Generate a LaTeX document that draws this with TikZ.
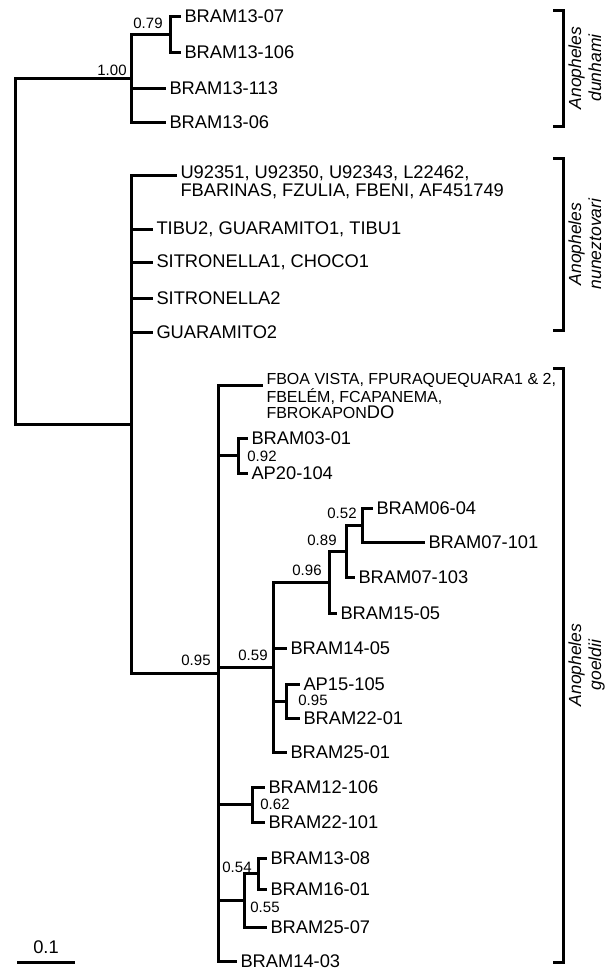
\documentclass[tikz,border=0pt]{standalone}
\usepackage{fontspec}
\setmainfont{Liberation Sans}
\begin{document}
\begin{tikzpicture}[x=1pt,y=-1pt,line width=3pt,
  leaf/.style={anchor=west,inner xsep=2pt,inner ysep=0.5pt,font=\fontsize{18.3}{18}\selectfont},
  boot/.style={inner sep=0pt,font=\fontsize{15}{15}\selectfont},
  clade/.style={rotate=90,anchor=north,align=center,inner sep=1pt,
    font=\fontsize{17.5}{20}\selectfont\itshape}]
\useasboundingbox (0,0) rectangle (609,970);
\coordinate (root) at (15,251.6);
\coordinate (dun) at (131,78);
\coordinate (n79) at (170,34);
\coordinate (nun) at (131,424.2);
\coordinate (goe) at (218,673.5);
\coordinate (n92) at (238,455.5);
\coordinate (n59) at (273,667.5);
\coordinate (n96) at (329,582);
\coordinate (n89) at (346,551);
\coordinate (n52) at (362,525);
\coordinate (n95) at (286,701);
\coordinate (n62) at (252,804.5);
\coordinate (n55) at (244,900.5);
\coordinate (n54) at (258,873.5);
\node[leaf] (b1307) at (181,16) {BRAM13-07};
\node[leaf] (b13106) at (181,52) {BRAM13-106};
\node[leaf] (b13113) at (166,88) {BRAM13-113};
\node[leaf] (b1306) at (166,122) {BRAM13-06};
\coordinate (u92) at (177,175);
\node[leaf,anchor=north west,align=left] (u92txt) at (177,164)
  {U92351, U92350, U92343, L22462,\\FBARINAS, FZULIA, FBENI, AF451749};
\node[leaf] (tibu) at (153,229) {TIBU2, GUARAMITO1, TIBU1};
\node[leaf] (sit1) at (153,262) {SITRONELLA1, CHOCO1};
\node[leaf] (sit2) at (153,298) {SITRONELLA2};
\node[leaf] (gua2) at (153,332) {GUARAMITO2};
\coordinate (fboa) at (263,385);
\node[leaf,anchor=north west,align=left,font=\fontsize{16}{15.5}\selectfont] (fboatxt) at (263,371.8)
  {FBOA VISTA, FPURAQUEQUARA1 \& 2,\\FBEL\'EM, FCAPANEMA,\\FBROKAPON{\fontsize{18.3}{15.5}\selectfont DO}};
\node[leaf] (b0301) at (248,438) {BRAM03-01};
\node[leaf] (ap20) at (248,473) {AP20-104};
\node[leaf] (b0604) at (373,508) {BRAM06-04};
\node[leaf] (b07101) at (425,542) {BRAM07-101};
\node[leaf] (b07103) at (355,577) {BRAM07-103};
\node[leaf] (b1505) at (337,613) {BRAM15-05};
\node[leaf] (b1405) at (287,648) {BRAM14-05};
\node[leaf] (ap15) at (300,684) {AP15-105};
\node[leaf] (b2201) at (300,718) {BRAM22-01};
\node[leaf] (b2501) at (287,752) {BRAM25-01};
\node[leaf] (b12106) at (265,787) {BRAM12-106};
\node[leaf] (b22101) at (265,822) {BRAM22-101};
\node[leaf] (b1308) at (267,858) {BRAM13-08};
\node[leaf] (b1601) at (267,889) {BRAM16-01};
\node[leaf] (b2507) at (267,927) {BRAM25-07};
\node[leaf] (b1403) at (237,961.5) {BRAM14-03};
\draw (root) |- (dun) (root) |- (nun);
\draw (dun) |- (n79) (dun) |- (b13113) (dun) |- (b1306);
\draw (n79) |- (b1307) (n79) |- (b13106);
\draw (nun) |- (u92) (nun) |- (tibu) (nun) |- (sit1) (nun) |- (sit2) (nun) |- (gua2) (nun) |- (goe);
\draw (goe) |- (fboa) (goe) |- (n92) (goe) |- (n59) (goe) |- (n62) (goe) |- (n55) (goe) |- (b1403);
\draw (n92) |- (b0301) (n92) |- (ap20);
\draw (n59) |- (n96) (n59) |- (b1405) (n59) |- (n95) (n59) |- (b2501);
\draw (n96) |- (n89) (n96) |- (b1505);
\draw (n89) |- (n52) (n89) |- (b07103);
\draw (n52) |- (b0604) (n52) |- (b07101);
\draw (n95) |- (ap15) (n95) |- (b2201);
\draw (n62) |- (b12106) (n62) |- (b22101);
\draw (n55) |- (n54) (n55) |- (b2507);
\draw (n54) |- (b1308) (n54) |- (b1601);
\node[boot] (l100) at (112,70) {1.00};
\node[boot] (l079) at (148,23) {0.79};
\node[boot] (l092) at (262,456) {0.92};
\node[boot] (l052) at (342,513) {0.52};
\node[boot] (l089) at (322,540) {0.89};
\node[boot] (l096) at (307,570) {0.96};
\node[boot] (l059) at (253,655) {0.59};
\node[boot] (l095a) at (196,660) {0.95};
\node[boot] (l095b) at (313,700) {0.95};
\node[boot] (l062) at (275,804) {0.62};
\node[boot] (l054) at (237,867) {0.54};
\node[boot] (l055) at (265,907) {0.55};
\draw (553,10) -- (563,10) -- (563,126) -- (553,126);
\draw (553,158) -- (563,158) -- (563,330) -- (553,330);
\draw (553,368) -- (563,368) -- (563,962) -- (553,962);
\node[clade] (sdun) at (566,68) {Anopheles\\dunhami};
\node[clade] (snun) at (566,244) {Anopheles\\nuneztovari};
\node[clade] (sgoe) at (566,665) {Anopheles\\goeldii};
\coordinate (sb1) at (17,962);
\coordinate (sb2) at (75,962);
\draw (sb1) -- (sb2);
\node[leaf,anchor=center] (sbl) at (46,947) {0.1};
\end{tikzpicture}
\end{document}
